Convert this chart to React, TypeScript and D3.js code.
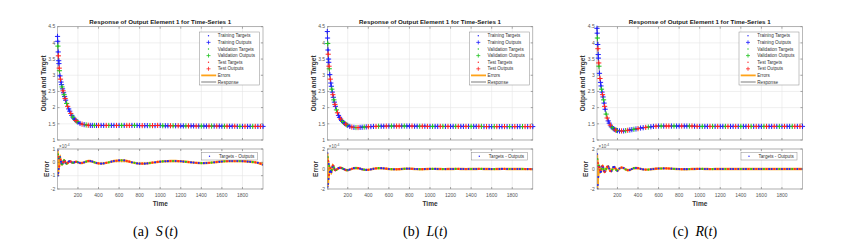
import * as d3 from "d3";

// time steps (sampled) shared by all three panels
const TIME = [
  1, 3, 5, 8, 10, 13, 15, 18, 20, 25, 30, 35, 40, 45, 50, 55, 60, 65, 70, 75, 80,
  90, 100, 110, 120, 130, 140, 150, 160, 170, 180, 190, 200,
  220, 240, 260, 280, 300, 320, 340, 360, 380, 400,
  425, 450, 475, 500, 525, 550, 575, 600,
  625, 650, 675, 700, 725, 750, 775, 800,
  825, 850, 875, 900, 925, 950, 975, 1000,
  1025, 1050, 1075, 1100, 1125, 1150, 1175, 1200,
  1225, 1250, 1275, 1300, 1325, 1350, 1375, 1400,
  1425, 1450, 1475, 1500, 1525, 1550, 1575, 1600,
  1625, 1650, 1675, 1700, 1725, 1750, 1775, 1800,
  1825, 1850, 1875, 1900, 1925, 1950, 1975, 2000,
];

// response (output ≈ target) per panel
const RESP_S = [
  4.2, 4.05, 3.9, 3.72, 3.6, 3.45, 3.36, 3.22, 3.14, 2.98, 2.88, 2.79, 2.71, 2.64, 2.58, 2.52, 2.46, 2.4, 2.34, 2.28, 2.23,
  2.13, 2.04, 1.96, 1.89, 1.82, 1.76, 1.71, 1.67, 1.63, 1.6, 1.57, 1.55,
  1.51, 1.49, 1.475, 1.465, 1.455, 1.45, 1.45, 1.45, 1.45, 1.45,
  1.45, 1.45, 1.45, 1.45, 1.45, 1.45, 1.45, 1.45,
  1.45, 1.45, 1.45, 1.45, 1.45, 1.45, 1.45, 1.445,
  1.445, 1.445, 1.445, 1.445, 1.445, 1.445, 1.45, 1.45,
  1.44, 1.44, 1.44, 1.44, 1.44, 1.44, 1.44, 1.435,
  1.435, 1.435, 1.435, 1.435, 1.435, 1.43, 1.43, 1.43,
  1.43, 1.43, 1.43, 1.43, 1.43, 1.43, 1.43, 1.425,
  1.425, 1.425, 1.425, 1.425, 1.425, 1.42, 1.42, 1.42,
  1.42, 1.42, 1.42, 1.42, 1.42, 1.42, 1.42, 1.42,
];
const RESP_L = [
  4.35, 4.15, 3.98, 3.78, 3.65, 3.5, 3.4, 3.28, 3.2, 3.02, 2.88, 2.76, 2.66, 2.57, 2.48, 2.4, 2.32, 2.24, 2.17, 2.1, 2.04,
  1.93, 1.84, 1.76, 1.7, 1.65, 1.6, 1.57, 1.54, 1.51, 1.49, 1.47, 1.45,
  1.42, 1.4, 1.39, 1.385, 1.385, 1.39, 1.395, 1.4, 1.405, 1.41,
  1.415, 1.42, 1.42, 1.425, 1.425, 1.425, 1.43, 1.43,
  1.43, 1.43, 1.43, 1.43, 1.43, 1.43, 1.43, 1.43,
  1.43, 1.425, 1.425, 1.425, 1.425, 1.425, 1.42, 1.42,
  1.42, 1.42, 1.42, 1.42, 1.42, 1.42, 1.42, 1.42,
  1.42, 1.42, 1.42, 1.42, 1.42, 1.42, 1.42, 1.42,
  1.42, 1.42, 1.42, 1.42, 1.415, 1.415, 1.415, 1.415,
  1.415, 1.415, 1.415, 1.415, 1.415, 1.415, 1.415, 1.415,
  1.415, 1.415, 1.415, 1.415, 1.415, 1.415, 1.415, 1.415,
];
const RESP_R = [
  4.45, 4.3, 4.15, 3.95, 3.82, 3.64, 3.53, 3.38, 3.28, 3.06, 2.9, 2.78, 2.67, 2.57, 2.48, 2.4, 2.33, 2.24, 2.14, 2.04, 1.95,
  1.8, 1.68, 1.59, 1.52, 1.46, 1.41, 1.38, 1.35, 1.33, 1.31, 1.3, 1.29,
  1.28, 1.28, 1.28, 1.29, 1.3, 1.31, 1.32, 1.33, 1.34, 1.35,
  1.37, 1.38, 1.39, 1.4, 1.41, 1.42, 1.425, 1.43,
  1.43, 1.43, 1.43, 1.43, 1.43, 1.43, 1.43, 1.43,
  1.43, 1.43, 1.43, 1.43, 1.43, 1.425, 1.42, 1.42,
  1.42, 1.42, 1.42, 1.42, 1.42, 1.42, 1.42, 1.42,
  1.42, 1.42, 1.42, 1.42, 1.42, 1.42, 1.42, 1.42,
  1.42, 1.42, 1.42, 1.42, 1.42, 1.42, 1.42, 1.42,
  1.42, 1.42, 1.42, 1.42, 1.42, 1.42, 1.42, 1.42,
  1.42, 1.42, 1.42, 1.42, 1.42, 1.42, 1.42, 1.42,
];

// errors (targets - outputs), in units of 1e-4
const ERR_S = [
  0.9, -1.0, 0.6, -0.8, 0.4, -0.5, 0.3, -0.3, 0.35, 0.4, 0.2, 0.05, -0.1, -0.15, -0.1, 0.0, 0.1, 0.15, 0.12, 0.05, -0.05,
  -0.1, -0.05, 0.05, 0.08, 0.05, 0.0, -0.03, -0.02, 0.02, 0.04, 0.03, 0.0,
  -0.05, -0.05, 0.0, 0.06, 0.1, 0.1, 0.06, 0.0, -0.05, -0.08,
  -0.1, -0.08, -0.04, 0.0, 0.05, 0.1, 0.12, 0.14,
  0.15, 0.14, 0.1, 0.05, 0.0, -0.04, -0.08, -0.1,
  -0.1, -0.1, -0.08, -0.05, -0.02, 0.0, 0.03, 0.05,
  0.07, 0.08, 0.09, 0.1, 0.1, 0.1, 0.09, 0.08,
  0.06, 0.04, 0.02, 0.0, -0.02, -0.04, -0.05, -0.06,
  -0.06, -0.05, -0.04, -0.02, 0.0, 0.02, 0.04, 0.06,
  0.08, 0.09, 0.1, 0.1, 0.1, 0.1, 0.1, 0.09,
  0.08, 0.06, 0.04, 0.02, 0.0, -0.04, -0.1, -0.18,
];
const ERR_L = [
  1.6, -1.8, 1.2, -1.5, 0.8, -1.0, 0.5, -0.6, 0.3, -0.3, 0.1, -0.2, -0.3, -0.1, 0.2, 0.35, 0.3, 0.15, 0.0, -0.1, -0.12,
  -0.08, 0.0, 0.08, 0.12, 0.12, 0.1, 0.05, 0.0, -0.05, -0.1, -0.12, -0.12,
  -0.06, 0.02, 0.08, 0.1, 0.08, 0.03, -0.03, -0.07, -0.09, -0.08,
  -0.04, 0.02, 0.06, 0.08, 0.08, 0.06, 0.03, 0.0,
  -0.02, -0.03, -0.03, -0.02, 0.0, 0.02, 0.03, 0.03,
  0.02, 0.0, -0.01, -0.02, -0.02, -0.01, 0.0, 0.01,
  0.01, 0.01, 0.0, 0.0, -0.01, -0.01, 0.0, 0.0,
  0.0, 0.01, 0.01, 0.0, 0.0, -0.01, 0.0, 0.0,
  0.0, 0.0, 0.01, 0.01, 0.0, 0.0, 0.0, -0.01,
  -0.01, 0.0, 0.0, 0.01, 0.01, 0.0, 0.0, 0.0,
  0.0, 0.0, 0.0, 0.0, -0.01, -0.01, -0.01, -0.02,
];
const ERR_R = [
  1.5, -2.0, 1.0, -1.6, 0.6, -0.8, 0.3, 0.2, 0.35, 0.2, -0.1, -0.3, -0.25, 0.0, 0.25, 0.3, 0.2, 0.0, -0.2, -0.28, -0.25,
  0.0, 0.22, 0.25, 0.05, -0.2, -0.22, -0.05, 0.18, 0.2, 0.05, -0.12, -0.18,
  0.05, 0.15, 0.1, -0.05, -0.12, -0.1, 0.0, 0.08, 0.1, 0.08,
  0.02, -0.04, -0.06, -0.06, -0.03, 0.0, 0.03, 0.05,
  0.05, 0.06, 0.06, 0.05, 0.03, 0.01, 0.0, -0.01,
  -0.02, -0.02, -0.02, -0.01, 0.0, 0.0, 0.01, 0.01,
  0.01, 0.0, 0.0, -0.01, -0.01, 0.0, 0.0, 0.0,
  0.0, 0.0, 0.0, 0.0, 0.0, 0.0, 0.0, 0.0,
  0.0, 0.0, 0.0, 0.0, 0.0, 0.0, 0.0, 0.0,
  0.0, 0.0, 0.0, 0.0, 0.0, 0.0, 0.0, 0.0,
  0.0, 0.0, 0.0, 0.0, 0.0, 0.0, 0.0, 0.0,
];

// which subset each sample belongs to: T = training, V = validation, S = test
const SPLIT =
  "TTVTSTTSVT" + "STTVTSTVTS" + "TVSTTSTVTT" + "SVTTSTVSTT" + "VTSTTSVTTS" +
  "TVTSSTVTTS" + "TTVSTSTVTT" + "SVTSTTVSTT" + "STVTTSVTST" + "TVSTTSTVTS" + "TTVSTST";

const RESP_TICKS = [1, 1.5, 2, 2.5, 3, 3.5, 4, 4.5];
const TIME_TICKS = [200, 400, 600, 800, 1000, 1200, 1400, 1600, 1800];
const ERR_TICKS_S = [-2, -1, 0, 1];
const ERR_TICKS_LR = [-2, 0, 2];
const LEGEND_LABELS = [
  "Training Targets", "Training Outputs", "Validation Targets", "Validation Outputs",
  "Test Targets", "Test Outputs", "Errors", "Response",
];
const CAPTIONS = [
  { tag: "(a)", fn: "S" },
  { tag: "(b)", fn: "L" },
  { tag: "(c)", fn: "R" },
];

const COLORS: Record<string, string> = { T: "#2020ff", V: "#22c322", S: "#ff2424" };
const ORANGE = "#ffa31a";
const FONT = "'Liberation Sans', Arial, sans-serif";
const SERIF = "'Liberation Serif', 'Times New Roman', serif";

const W = 205.5;
const TOP_T = 26.7;
const TOP_B = 140;
const ERR_T = 149;
const ERR_B = 189;

type PanelProps = {
  left: number;
  resp: number[];
  err: number[];
  errDomain: [number, number];
  errTicks: number[];
  caption: { tag: string; fn: string };
  id: string;
};

function Plus({ cx, cy, color, s = 2.6, w = 1 }: { cx: number; cy: number; color: string; s?: number; w?: number }) {
  return <path d={`M${cx - s},${cy}H${cx + s}M${cx},${cy - s}V${cy + s}`} stroke={color} strokeWidth={w} />;
}

function Panel({ left, resp, err, errDomain, errTicks, caption, id }: PanelProps) {
  const x = d3.scaleLinear().domain([1, 2000]).range([left, left + W]);
  const y = d3.scaleLinear().domain([1, 4.5]).range([TOP_B, TOP_T]);
  const ye = d3.scaleLinear().domain(errDomain).range([ERR_B, ERR_T]);
  const right = left + W;

  const respLine = d3.line<number>().x((_, i) => x(TIME[i])).y((d) => y(d));
  const errLine = d3.line<number>().x((_, i) => x(TIME[i])).y((d) => ye(d));

  const groups = ["T", "V", "S"];
  const split = (i: number) => SPLIT[i] ?? "T";

  const legW = 60;
  const legX = right - 3.5 - legW;
  const legY = 32;
  const elegW = 56;
  const elegX = right - 5.5 - elegW;
  const elegY = 152.5;

  const tick = 2;

  return (
    <g>
      <defs>
        <clipPath id={`top-${id}`}>
          <rect x={left - 3} y={TOP_T - 3} width={W + 6} height={TOP_B - TOP_T + 3} />
        </clipPath>
        <clipPath id={`err-${id}`}>
          <rect x={left} y={ERR_T} width={W} height={ERR_B - ERR_T} />
        </clipPath>
      </defs>

      {/* title */}
      <text x={left + W / 2} y={24} textAnchor="middle" fontFamily={FONT} fontSize={6.2} fontWeight="bold" fill="#1a1a1a">
        Response of Output Element 1 for Time-Series 1
      </text>

      {/* ---------- top axes ---------- */}
      <rect x={left} y={TOP_T} width={W} height={TOP_B - TOP_T} fill="#fff" />
      {RESP_TICKS.map((t) => (
        <line key={`gy${t}`} x1={left} x2={right} y1={y(t)} y2={y(t)} stroke="#e6e6e6" strokeWidth={0.6} />
      ))}
      {TIME_TICKS.map((t) => (
        <line key={`gx${t}`} x1={x(t)} x2={x(t)} y1={TOP_T} y2={TOP_B} stroke="#e6e6e6" strokeWidth={0.6} />
      ))}

      {/* top axes ticks + box */}
      {RESP_TICKS.map((t) => (
        <g key={`ty${t}`}>
          <line x1={left} x2={left + tick} y1={y(t)} y2={y(t)} stroke="#555" strokeWidth={0.5} />
          <line x1={right} x2={right - tick} y1={y(t)} y2={y(t)} stroke="#555" strokeWidth={0.5} />
          <text x={left - 2.2} y={y(t)} dy="0.35em" textAnchor="end" fontFamily={FONT} fontSize={5} fill="#555">
            {t}
          </text>
        </g>
      ))}
      {TIME_TICKS.map((t) => (
        <g key={`tx${t}`}>
          <line x1={x(t)} x2={x(t)} y1={TOP_B} y2={TOP_B - tick} stroke="#555" strokeWidth={0.5} />
          <line x1={x(t)} x2={x(t)} y1={TOP_T} y2={TOP_T + tick} stroke="#555" strokeWidth={0.5} />
        </g>
      ))}
      <rect x={left} y={TOP_T} width={W} height={TOP_B - TOP_T} fill="none" stroke="#8a8a8a" strokeWidth={0.6} />

      <g clipPath={`url(#top-${id})`}>
        <path d={respLine(resp) ?? ""} fill="none" stroke="#333" strokeWidth={0.6} />
        {groups.map((g) => (
          <g key={g}>
            {resp.map((v, i) =>
              split(i) === g ? <circle key={`d${i}`} cx={x(TIME[i])} cy={y(v)} r={0.9} fill={COLORS[g]} /> : null
            )}
            {resp.map((v, i) =>
              split(i) === g ? <Plus key={`p${i}`} cx={x(TIME[i])} cy={y(v)} color={COLORS[g]} /> : null
            )}
          </g>
        ))}
      </g>

      <text
        transform={`translate(${left - 11.8},${(TOP_T + TOP_B) / 2}) rotate(-90)`}
        textAnchor="middle" fontFamily={FONT} fontSize={6.5} fontWeight="bold" fill="#333"
      >
        Output and Target
      </text>

      {/* legend */}
      <rect x={legX} y={legY} width={legW} height={53} fill="#fff" stroke="#8a8a8a" strokeWidth={0.5} />
      {LEGEND_LABELS.map((label, i) => {
        const ly = legY + 3.8 + i * 6.6;
        const mx = legX + 9;
        const g = groups[Math.floor(i / 2)];
        let marker = null;
        if (i < 6 && i % 2 === 0) marker = <circle cx={mx} cy={ly} r={0.7} fill={COLORS[g]} />;
        else if (i < 6) marker = <Plus cx={mx} cy={ly} color={COLORS[g]} s={2} w={0.8} />;
        else if (i === 6)
          marker = <line x1={legX + 1.7} x2={legX + 16.7} y1={ly} y2={ly} stroke={ORANGE} strokeWidth={1.8} />;
        else marker = <line x1={legX + 1.7} x2={legX + 16.7} y1={ly} y2={ly} stroke="#444" strokeWidth={0.7} />;
        return (
          <g key={label}>
            {marker}
            <text x={legX + 18.3} y={ly} dy="0.35em" fontFamily={FONT} fontSize={4.6} fill="#333">
              {label}
            </text>
          </g>
        );
      })}

      {/* ---------- error axes ---------- */}
      <rect x={left} y={ERR_T} width={W} height={ERR_B - ERR_T} fill="#fff" />
      {errTicks.map((t) => (
        <line key={`gey${t}`} x1={left} x2={right} y1={ye(t)} y2={ye(t)} stroke="#e6e6e6" strokeWidth={0.6} />
      ))}
      {TIME_TICKS.map((t) => (
        <line key={`gex${t}`} x1={x(t)} x2={x(t)} y1={ERR_T} y2={ERR_B} stroke="#e6e6e6" strokeWidth={0.6} />
      ))}
      <g clipPath={`url(#err-${id})`}>
        {err.map((e, i) => (
          <line key={`s${i}`} x1={x(TIME[i])} x2={x(TIME[i])} y1={ye(0)} y2={ye(e)} stroke={ORANGE} strokeWidth={1.4} />
        ))}
        <path d={errLine(err) ?? ""} fill="none" stroke={ORANGE} strokeWidth={2.4} />
        {groups.map((g) => (
          <g key={`e${g}`}>
            {err.map((e, i) =>
              split(i) === g ? <circle key={i} cx={x(TIME[i])} cy={ye(e)} r={1.1} fill={COLORS[g]} /> : null
            )}
          </g>
        ))}
      </g>
      {errTicks.map((t) => (
        <g key={`tey${t}`}>
          <line x1={left} x2={left + tick} y1={ye(t)} y2={ye(t)} stroke="#555" strokeWidth={0.5} />
          <line x1={right} x2={right - tick} y1={ye(t)} y2={ye(t)} stroke="#555" strokeWidth={0.5} />
          <text x={left - 2.2} y={ye(t)} dy="0.35em" textAnchor="end" fontFamily={FONT} fontSize={5} fill="#555">
            {t}
          </text>
        </g>
      ))}
      {TIME_TICKS.map((t) => (
        <g key={`tex${t}`}>
          <line x1={x(t)} x2={x(t)} y1={ERR_B} y2={ERR_B - tick} stroke="#555" strokeWidth={0.5} />
          <line x1={x(t)} x2={x(t)} y1={ERR_T} y2={ERR_T + tick} stroke="#555" strokeWidth={0.5} />
          <text x={x(t)} y={197} textAnchor="middle" fontFamily={FONT} fontSize={5} fill="#555">
            {t}
          </text>
        </g>
      ))}
      <rect x={left} y={ERR_T} width={W} height={ERR_B - ERR_T} fill="none" stroke="#8a8a8a" strokeWidth={0.6} />

      <text x={left + 1.5} y={147.5} fontFamily={FONT} fontSize={4.5} fill="#555">
        ×10
        <tspan dy={-1.6} fontSize={3.4}>-4</tspan>
      </text>

      <text
        transform={`translate(${left - 9},${(ERR_T + ERR_B) / 2}) rotate(-90)`}
        textAnchor="middle" fontFamily={FONT} fontSize={6.5} fontWeight="bold" fill="#333"
      >
        Error
      </text>
      <text x={left + W / 2} y={205.5} textAnchor="middle" fontFamily={FONT} fontSize={6.5} fontWeight="bold" fill="#333">
        Time
      </text>

      {/* error legend */}
      <rect x={elegX} y={elegY} width={elegW} height={7.5} fill="#fff" stroke="#8a8a8a" strokeWidth={0.5} />
      <circle cx={elegX + 8} cy={elegY + 3.75} r={0.7} fill={COLORS.T} />
      <text x={elegX + 17.5} y={elegY + 3.75} dy="0.35em" fontFamily={FONT} fontSize={4.6} fill="#333">
        Targets - Outputs
      </text>

      {/* caption */}
      <text x={left + 98} y={236} textAnchor="middle" fontFamily={SERIF} fontSize={14} fill="#000">
        {caption.tag}
        <tspan dx={7} fontStyle="italic">{caption.fn}</tspan>
        <tspan dx={caption.fn === "S" ? 2 : 0}>(</tspan>
        <tspan fontStyle="italic">t</tspan>
        <tspan>)</tspan>
      </text>
    </g>
  );
}

export default function App() {
  return (
    <svg
      width={849}
      height={247}
      viewBox="0 0 849 247"
      style={{ position: "absolute", left: 0, top: 0, background: "#fff" }}
    >
      <rect width={849} height={247} fill="#fff" />
      <Panel id="a" left={57.5} resp={RESP_S} err={ERR_S} errDomain={[-2, 1]} errTicks={ERR_TICKS_S} caption={CAPTIONS[0]} />
      <Panel id="b" left={327.3} resp={RESP_L} err={ERR_L} errDomain={[-2, 2]} errTicks={ERR_TICKS_LR} caption={CAPTIONS[1]} />
      <Panel id="c" left={597} resp={RESP_R} err={ERR_R} errDomain={[-2, 2]} errTicks={ERR_TICKS_LR} caption={CAPTIONS[2]} />
    </svg>
  );
}
